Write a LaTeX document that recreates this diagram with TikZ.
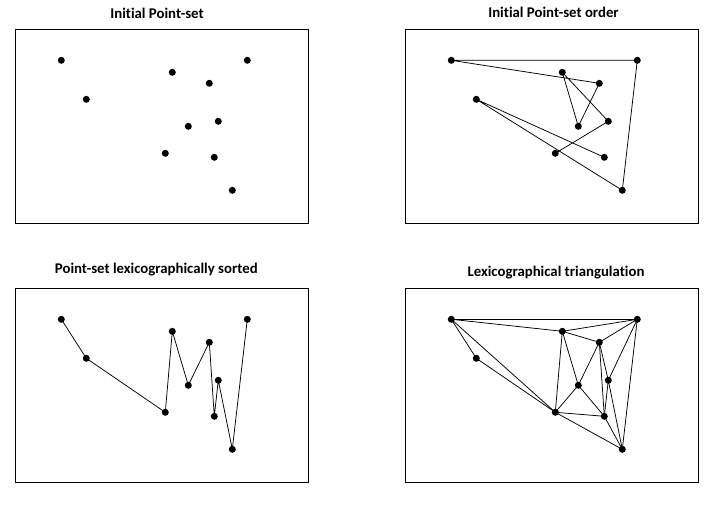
\documentclass[tikz,border=0pt]{standalone}
\usepackage{fontspec}
\setmainfont[Ligatures=NoCommon]{Carlito}
\begin{document}
\begin{tikzpicture}[x=1pt,y=-1pt,
  dot/.style={circle,fill=black,inner sep=0pt,minimum size=7pt},
  frame/.style={draw=black,line width=1.1pt},
  edge/.style={draw=black,line width=0.75pt},
  ttl/.style={font=\bfseries\fontsize{14.8}{16}\selectfont,anchor=base}]
\useasboundingbox (0,0) rectangle (718,506);
% panel frames and point coordinates
\foreach \ox/\oy/\p in {0/0/a,390/0/b,0/259/c,390/259/d}{
  \draw[frame] (15.3+\ox,29.3+\oy) rectangle (308.3+\ox,223.3+\oy);
  \begin{scope}[shift={(\ox,\oy)}]
    \coordinate (\p A) at (61.3,60.3);
    \coordinate (\p B) at (86.3,99.3);
    \coordinate (\p C) at (172.3,72.3);
    \coordinate (\p D) at (209.3,83.3);
    \coordinate (\p E) at (247.3,60.3);
    \coordinate (\p F) at (188.3,126.3);
    \coordinate (\p G) at (218.3,121.3);
    \coordinate (\p H) at (165.3,153.3);
    \coordinate (\p I) at (214.3,157.3);
    \coordinate (\p J) at (232.3,190.3);
  \end{scope}
}
\node[ttl] (t1) at (157,18.3) {Initial Point-set};
\node[ttl] (t2) at (553.5,17.3) {Initial Point-set order};
\node[ttl] (t3) at (156.3,273) {Point-set lexicographically sorted};
\node[ttl] (t4) at (556,276.3) {Lexicographical triangulation};
% panel 2: initial order
\draw[edge] (bI) -- (bB) -- (bJ) -- (bE) -- (bA) -- (bD) -- (bF) -- (bC) -- (bG) -- (bH);
% panel 3: sorted
\draw[edge] (cA) -- (cB) -- (cH) -- (cC) -- (cF) -- (cD) -- (cI) -- (cG) -- (cJ) -- (cE);
% panel 4: triangulation
\foreach \u/\v in {A/E,A/C,A/B,A/H,B/H,C/E,C/D,C/F,C/H,D/E,D/F,D/I,D/G,F/H,F/I,H/I,H/J,I/G,I/J,G/E,G/J,E/J}
  \draw[edge] (d\u) -- (d\v);
% dots
\foreach \p in {a,b,c,d}
  \foreach \q in {A,B,C,D,E,F,G,H,I,J}
    \node[dot] (\p\q dot) at (\p\q) {};
\end{tikzpicture}
\end{document}
